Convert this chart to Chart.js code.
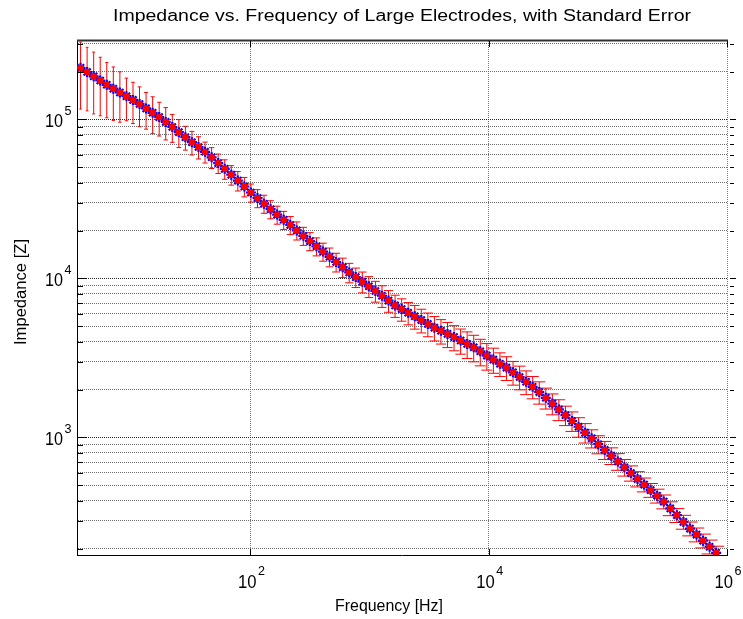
<!DOCTYPE html>
<html lang="en">

<head>
  <meta charset="UTF-8">
  <title>Impedance vs. Frequency of Large Electrodes</title>
  <style>
    html, body { margin: 0; padding: 0; background: #fff; }
  </style>
</head>

<body>
  <canvas id="chart-canvas" width="743" height="619"></canvas>

  <script src="https://cdn.jsdelivr.net/npm/chart.js@4.4.8/dist/chart.umd.min.js"></script>
  <script>
    const freqHz = [3.750, 4.256, 4.831, 5.483, 6.223, 7.063, 8.017, 9.099, 10.33, 11.72,
      13.30, 15.10, 17.14, 19.45, 22.08, 25.06, 28.44, 32.28, 36.64, 41.59,
      47.21, 53.58, 60.81, 69.02, 78.34, 88.92, 100.9, 114.6, 130.0, 147.6,
      167.5, 190.1, 215.8, 244.9, 278.0, 315.5, 358.1, 406.4, 461.3, 523.6,
      594.3, 674.5, 765.6, 868.9, 986.3, 1119, 1271, 1442, 1637, 1858,
      2109, 2393, 2716, 3083, 3499, 3972, 4508, 5117, 5808, 6592,
      7482, 8492, 9638, 10940, 12420, 14090, 16000, 18160, 20610, 23390,
      26550, 30130, 34200, 38820, 44060, 50000, 56750, 64420, 73110, 82990,
      94190, 106900, 121300, 137700, 156300, 177400, 201400, 228600, 259400, 294400,
      334200, 379300, 430500, 488700, 554600, 629500, 714500, 810900];

    const impedance = [211400, 198900, 186900, 175900, 165300, 156200, 147800, 140100, 132800, 125200,
      117400, 110200, 103500, 96580, 89700, 83200, 77380, 71980, 67140, 62650,
      57850, 53180, 48910, 44960, 41280, 37900, 34750, 32040, 29540, 27280,
      25230, 23400, 21700, 20070, 18560, 17190, 15940, 14760, 13690, 12700,
      11780, 10920, 10200, 9548, 8931, 8346, 7786, 7261, 6772, 6418,
      6084, 5785, 5475, 5182, 4905, 4690, 4484, 4280, 4075, 3879,
      3692, 3484, 3274, 3090, 2912, 2752, 2571, 2402, 2241, 2084,
      1930, 1777, 1634, 1502, 1381, 1270, 1168, 1073, 988.5, 907.5,
      835.6, 768.6, 706.6, 649.5, 597.2, 549.1, 505.5, 466.9, 429.9, 395.3,
      358.2, 324.6, 294.5, 267.3, 245.1, 224.4, 205.7, 188.3];

    const stdError = [95100, 85500, 78500, 70400, 62800, 57800, 51700, 42000, 38500, 35100,
      30500, 28700, 24800, 22200, 17900, 16600, 13200, 12200, 10700, 9400,
      8680, 7450, 6850, 6290, 5780, 5310, 4520, 4170, 3840, 3550,
      3280, 3040, 2820, 2610, 2410, 2230, 2070, 1920, 1850, 1710,
      1650, 1530, 1430, 1430, 1340, 1250, 1210, 1130, 1080, 1030,
      973, 983, 931, 881, 858, 821, 807, 770, 734, 737,
      701, 662, 622, 556, 495, 468, 437, 408, 381, 333,
      309, 267, 245, 225, 193, 178, 164, 150, 129, 118,
      109, 92.2, 84.8, 77.9, 65.7, 60.4, 50.6, 46.7, 43.0, 39.5,
      35.8, 32.5, 29.5, 26.7, 24.5, 22.4, 20.6, 18.8];

    // axes
    const xRange = [3.5, 1e6];
    const yRange = [182.4, 311600];
    const xTickValues = [1e2, 1e4, 1e6];
    const yTickValues = [1e3, 1e4, 1e5];

    const titleText = 'Impedance vs. Frequency of Large Electrodes, with Standard Error';
    const xLabel = 'Frequency [Hz]';
    const yLabel = 'Impedance [Z]';

    const FONT = '"Liberation Sans", Arial, Helvetica, sans-serif';

    // y grid: every 1..9 x 10^k inside the range
    const yGrid = [];
    for (let k = 2; k <= 5; k++) {
      for (let m = 1; m <= 9; m++) {
        const v = m * Math.pow(10, k);
        if (v > yRange[0] && v < yRange[1]) yGrid.push(v);
      }
    }

    function isDecade(v) {
      const l = Math.log10(v);
      return Math.abs(l - Math.round(l)) < 1e-9;
    }

    // draw text squeezed/stretched to a given width
    function fitText(ctx, text, x, y, size, width, align, rotate) {
      ctx.save();
      ctx.font = size + 'px ' + FONT;
      ctx.fillStyle = '#000';
      const w = ctx.measureText(text).width;
      ctx.translate(x, y);
      if (rotate) ctx.rotate(-Math.PI / 2);
      ctx.scale(width / w, 1);
      ctx.textAlign = align;
      ctx.textBaseline = 'alphabetic';
      ctx.fillText(text, 0, 0);
      ctx.restore();
    }

    const points = freqHz.map((f, i) => ({ x: f, y: impedance[i] }));

    // red error bars with caps, drawn under the markers
    const errorBars = {
      id: 'errorBars',
      beforeDatasetsDraw(chart) {
        const { ctx, chartArea, scales } = chart;
        ctx.save();
        ctx.beginPath();
        ctx.rect(chartArea.left, chartArea.top, chartArea.right - chartArea.left, chartArea.bottom - chartArea.top);
        ctx.clip();
        ctx.strokeStyle = '#ff0000';
        ctx.lineWidth = 1;
        freqHz.forEach((f, i) => {
          const px = scales.x.getPixelForValue(f);
          const hi = impedance[i] + stdError[i];
          const lo = impedance[i] - stdError[i];
          const pTop = scales.y.getPixelForValue(hi);
          const pBot = lo > 0 ? scales.y.getPixelForValue(lo) : chartArea.bottom + 10;
          const hw = 1.3 + (px - 81) * 0.0105;
          ctx.beginPath();
          ctx.moveTo(px, pTop);
          ctx.lineTo(px, pBot);
          ctx.moveTo(px - hw, pTop);
          ctx.lineTo(px + hw, pTop);
          ctx.moveTo(px - hw, pBot);
          ctx.lineTo(px + hw, pBot);
          ctx.stroke();
        });
        ctx.restore();
      }
    };

    // frame, tick marks, tick labels, axis labels and title
    const decorations = {
      id: 'decorations',
      afterDraw(chart) {
        const { ctx, chartArea, scales } = chart;
        const L = chartArea.left, R = chartArea.right, T = chartArea.top, B = chartArea.bottom;

        ctx.save();
        // top frame line
        ctx.strokeStyle = '#333';
        ctx.lineWidth = 2;
        ctx.beginPath();
        ctx.moveTo(L, T - 0.5);
        ctx.lineTo(R + 1, T - 0.5);
        ctx.stroke();

        // y tick marks (left inside, right side)
        ctx.strokeStyle = '#000';
        ctx.lineWidth = 1;
        yGrid.forEach(v => {
          const py = Math.round(scales.y.getPixelForValue(v)) + 0.5;
          const len = isDecade(v) ? 10 : 6;
          ctx.beginPath();
          ctx.moveTo(L, py);
          ctx.lineTo(L + len, py);
          ctx.moveTo(R + 3, py);
          ctx.lineTo(R + 3 + (isDecade(v) ? 6 : 4), py);
          ctx.stroke();
        });
        // x tick marks (bottom and top)
        xTickValues.forEach(v => {
          const px = Math.round(scales.x.getPixelForValue(v)) + 0.5;
          ctx.beginPath();
          ctx.moveTo(px, B);
          ctx.lineTo(px, B - 6);
          ctx.moveTo(px, T);
          ctx.lineTo(px, T + 6);
          ctx.stroke();
        });
        ctx.restore();

        // y tick labels 10^k
        yTickValues.forEach(v => {
          const py = scales.y.getPixelForValue(v);
          const e = String(Math.round(Math.log10(v)));
          fitText(ctx, '10', 63, py + 7.5, 19, 18, 'right');
          fitText(ctx, e, 64.5, py - 4.5, 12.5, 7, 'left');
        });
        // x tick labels 10^k
        xTickValues.forEach(v => {
          const px = scales.x.getPixelForValue(v);
          const e = String(Math.round(Math.log10(v)));
          fitText(ctx, '10', px - 12.5, 587.5, 19, 18.5, 'left');
          fitText(ctx, e, px + 7.5, 575, 12.5, 7, 'left');
        });

        fitText(ctx, xLabel, 389, 611, 16, 108, 'center');
        fitText(ctx, yLabel, 26, 292, 16, 106, 'center', true);
        fitText(ctx, titleText, 402, 21, 16, 578, 'center');
      }
    };

    const context = document.getElementById('chart-canvas').getContext('2d');

    // datasets are painted last-to-first, so the red dots (index 0) end up on top
    new Chart(context, {
      type: 'line',
      data: {
        datasets: [
          {
            data: points,
            showLine: false,
            pointStyle: 'circle',
            pointRadius: 3.4,
            pointBorderWidth: 0,
            pointBorderColor: '#ff0000',
            pointBackgroundColor: '#ff0000'
          },
          {
            data: points,
            borderColor: '#0000ff',
            borderWidth: 1,
            pointStyle: 'star',
            pointRadius: 5,
            pointBorderWidth: 2.2,
            pointBorderColor: '#0000ff',
            pointBackgroundColor: '#0000ff',
            fill: false,
            tension: 0
          }
        ]
      },
      options: {
        responsive: false,
        animation: false,
        devicePixelRatio: 1,
        layout: { padding: { left: 77, right: 16, top: 41, bottom: 64 } },
        plugins: {
          legend: { display: false },
          title: { display: false },
          tooltip: { enabled: false }
        },
        scales: {
          x: {
            type: 'logarithmic',
            min: xRange[0],
            max: xRange[1],
            afterBuildTicks: (scale) => { scale.ticks = xTickValues.map(v => ({ value: v })); },
            ticks: { display: false },
            grid: { color: '#7a7a7a', lineWidth: 1, drawTicks: false },
            border: { display: true, color: '#000', width: 1, dash: [1, 1] }
          },
          y: {
            type: 'logarithmic',
            min: yRange[0],
            max: yRange[1],
            afterBuildTicks: (scale) => { scale.ticks = yGrid.map(v => ({ value: v })); },
            ticks: { display: false },
            grid: {
              color: (c) => (c.tick && isDecade(c.tick.value)) ? '#2a2a2a' : '#6e6e6e',
              lineWidth: 1,
              drawTicks: false
            },
            border: { display: true, color: '#000', width: 1, dash: [1, 1] }
          }
        }
      },
      plugins: [errorBars, decorations]
    });
  </script>
</body>

</html>
